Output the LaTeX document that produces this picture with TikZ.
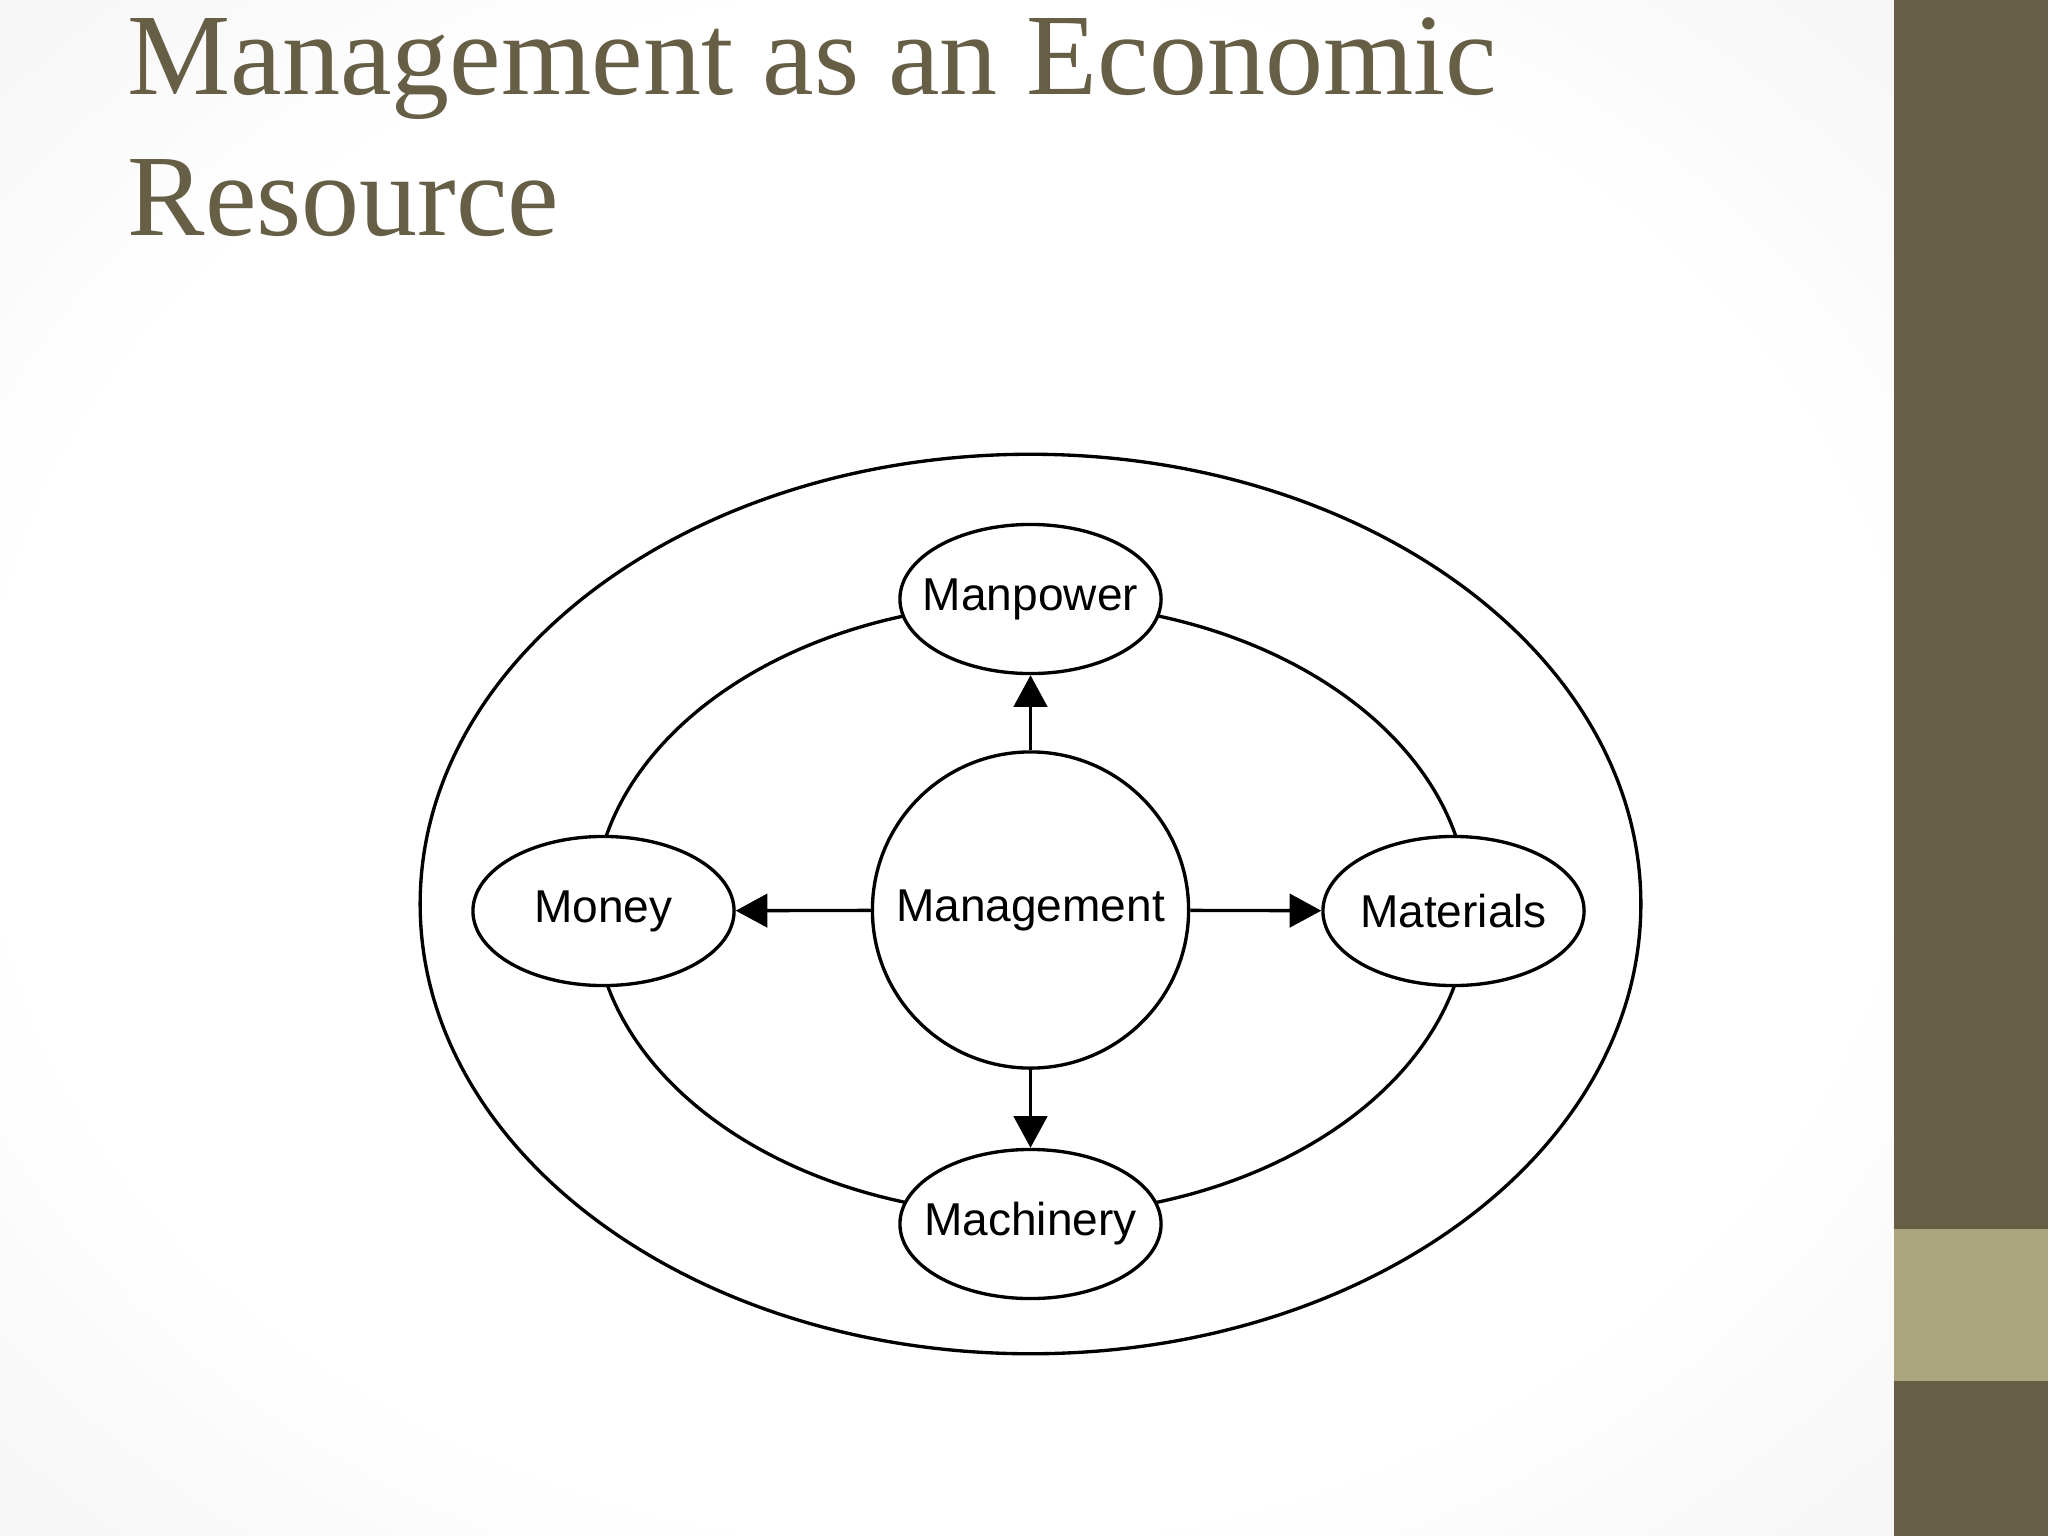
\documentclass[tikz,border=0pt]{standalone}
\usepackage{fontspec}
\setmainfont{Liberation Serif}
\newfontfamily\diagfont{Liberation Sans}
\usetikzlibrary{shapes.geometric,arrows.meta}
\definecolor{bardark}{HTML}{675E46}
\definecolor{barlight}{HTML}{ACA67F}
\definecolor{titlecol}{HTML}{675E46}
\newcommand\zw[1]{\makebox[0pt]{#1}}
\pgfdeclareradialshading{bgshade}{\pgfpoint{0bp}{0bp}}{color(0bp)=(white); color(25bp)=(white); color(50bp)=(black!9); color(100bp)=(black!14)}
\tikzset{
  ln/.style={line width=0.95pt, draw=black},
  resbox/.style={ln, ellipse, fill=white, minimum width=2.61cm, minimum height=1.49cm, inner sep=0pt, font=\diagfont\fontsize{13.1}{15}\selectfont},
  mgmtbox/.style={ln, circle, fill=white, minimum size=3.16cm, inner sep=0pt, font=\diagfont\fontsize{13.1}{15}\selectfont},
  arr/.style={ln, -{Triangle[length=9pt,width=9.5pt]}},
  titletext/.style={anchor=base west, inner sep=0pt, text=titlecol, font=\fontsize{33}{40}\selectfont}
}
\begin{document}
\begin{tikzpicture}[x=0.01cm,y=-0.01cm]
\useasboundingbox (0,0) rectangle (2048,1536);
\shade[shading=bgshade] (0,0) rectangle (1894,1536);
\fill[bardark] (1894,0) rectangle (2048,1536);
\fill[barlight] (1894,1229) rectangle (2048,1381);
\node[titletext] (t1) at (127,94) {Management as an Economic};
\node[titletext] (t2) at (127,235) {Resource};
\node[ln, ellipse, minimum width=12.2cm, minimum height=8.99cm, inner sep=0pt] (outer) at (1030.5,904) {};
\node[ln, ellipse, minimum width=8.74cm, minimum height=6.12cm, inner sep=0pt] (ring) at (1031,909) {};
\node[mgmtbox] (mgmt) at (1030.5,910) {\zw{Management}};
\node[resbox] (manpower) at (1030.5,599) {\zw{Manpower}};
\node[resbox] (machinery) at (1030.5,1224) {\zw{Machinery}};
\node[resbox] (money) at (603.5,911) {\zw{Money}};
\node[resbox] (materials) at (1453.5,911) {\zw{Materials}};
\draw[arr] (mgmt) -- (manpower);
\draw[arr] (mgmt) -- (machinery);
\draw[arr] (mgmt) -- (money);
\draw[arr] (mgmt) -- (materials);
\end{tikzpicture}
\end{document}
